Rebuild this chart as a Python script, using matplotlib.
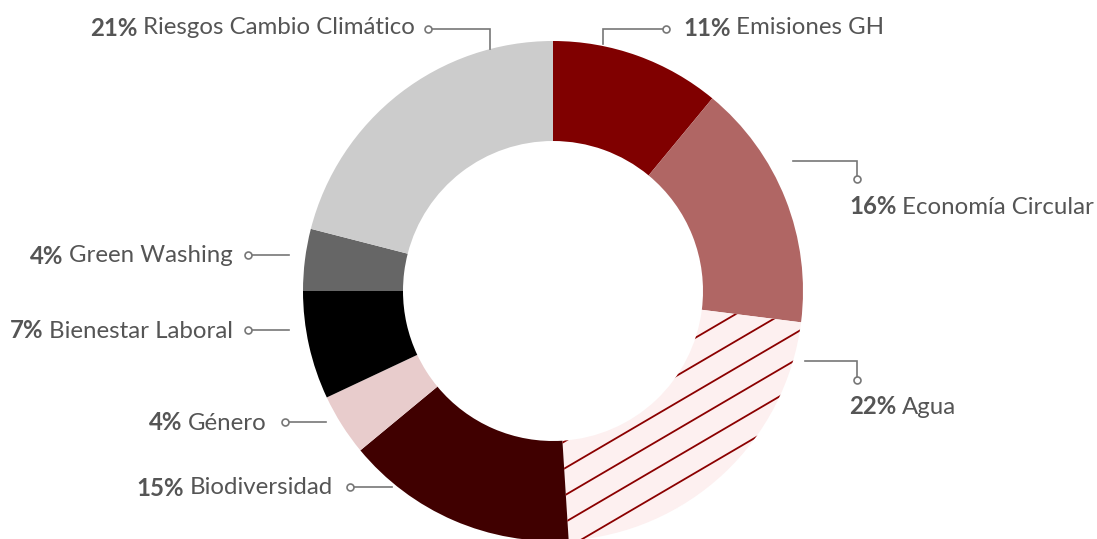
import numpy as np
import matplotlib.pyplot as plt

# datos
temas = ['Emisiones GH', 'Economía Circular', 'Agua', 'Biodiversidad',
         'Género', 'Bienestar Laboral', 'Green Washing', 'Riesgos Cambio Climático']
porcentajes = [11, 16, 22, 15, 4, 7, 4, 21]
colores = ['#800000', '#b06664', '#fdf0f0', '#400000',
           '#e8cccc', '#000000', '#666666', '#cccccc']

# layout en pixeles (y desde arriba): texto x, texto y, alineacion, trazo del conector
W, H = 1097, 539
centro = (553, 291)
r_ext, ancho = 250, 100
etiquetas = [
    (683, 28, 'left', [(603, 44), (603, 29), (666, 29)]),
    (849, 207, 'left', [(793, 161), (857, 161), (857, 179)]),
    (849, 407, 'left', [(805, 361), (857, 361), (857, 380)]),
    (333, 488, 'right', [(392, 487), (350, 487)]),
    (267, 423, 'right', [(326, 422), (285, 422)]),
    (233, 331, 'right', [(289, 330), (248, 330)]),
    (233, 256, 'right', [(289, 255), (248, 255)]),
    (415, 28, 'right', [(490, 49), (490, 29), (428, 29)]),
]
fs = 17.3

def fy(y):
    return H - y

plt.rcParams['font.family'] = ['Lato', 'DejaVu Sans']
fig = plt.figure(figsize=(W / 100, H / 100), dpi=100)
ax = fig.add_axes([0, 0, 1, 1])

wedges, _ = ax.pie(porcentajes, colors=colores, startangle=90, counterclock=False,
                   radius=r_ext, center=(centro[0], fy(centro[1])),
                   wedgeprops=dict(width=ancho, linewidth=0))
ax.set_xlim(0, W)
ax.set_ylim(0, H)
ax.set_aspect('auto')
ax.axis('off')

# rayado del sector Agua
agua = wedges[temas.index('Agua')]
pend = 0.586
xs = np.array([0, W])
for k in range(-30, 30):
    y0 = 467 + k * 27
    ys = y0 - pend * (xs - 567)
    ln, = ax.plot(xs, fy(ys), color='#8b0000', lw=1.3, solid_capstyle='butt')
    ln.set_clip_path(agua)

gris = '#555555'
fig.canvas.draw()
rend = fig.canvas.get_renderer()
for tema, p, (tx, ty, ha, trazo) in zip(temas, porcentajes, etiquetas):
    px = [a for a, b in trazo]
    py = [fy(b) for a, b in trazo]
    ax.plot(px, py, color='#777777', lw=1.2, solid_joinstyle='miter')
    ax.plot(px[-1], py[-1], 'o', ms=5, mfc='white', mec='#777777', mew=1.2)
    pct = f'{p}%'
    if ha == 'left':
        t1 = ax.text(tx, fy(ty), pct, fontsize=fs, fontweight='bold', color=gris,
                     ha='left', va='center')
        bb = t1.get_window_extent(rend)
        ax.text(bb.x1 + 6, fy(ty), tema, fontsize=fs, color=gris, ha='left', va='center')
    else:
        t2 = ax.text(tx, fy(ty), tema, fontsize=fs, color=gris, ha='right', va='center')
        bb = t2.get_window_extent(rend)
        ax.text(bb.x0 - 6, fy(ty), pct, fontsize=fs, fontweight='bold', color=gris,
                ha='right', va='center')

fig.savefig('out.png', dpi=100)
